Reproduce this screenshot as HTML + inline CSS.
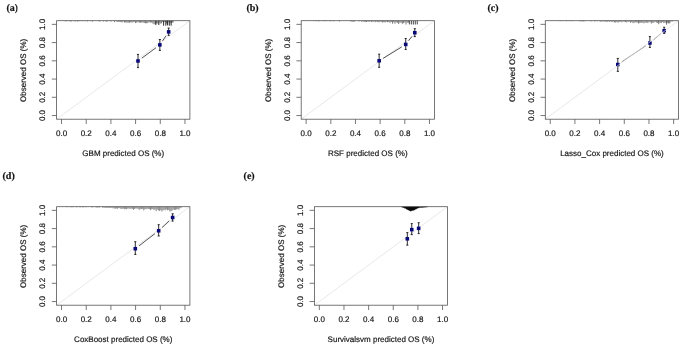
<!DOCTYPE html>
<html><head><meta charset="utf-8"><title>Calibration plots</title>
<style>
html,body{margin:0;padding:0;background:#fff;}
body{width:685px;height:346px;overflow:hidden;}
svg{display:block;filter:blur(0.3px);text-rendering:geometricPrecision;font-family:"Liberation Sans", sans-serif;font-size:8px;fill:#161616;}
text{stroke:#161616;stroke-width:0.18px;}
</style></head>
<body>
<svg width="685" height="346" viewBox="0 0 685 346">
<defs><clipPath id="clipa"><rect x="0" y="0" width="17.6" height="20"/></clipPath></defs>
<rect x="0" y="0" width="685" height="346" fill="#fff"/>
<line x1="56.60" y1="119.20" x2="189.90" y2="20.70" stroke="#dedede" stroke-width="0.7"/>
<path d="M65.24 20.70v0.64 M66.47 20.70v0.52 M68.94 20.70v0.34 M70.18 20.70v0.71 M71.41 20.70v0.68 M75.11 20.70v0.78 M77.58 20.70v0.82 M78.82 20.70v0.44 M80.05 20.70v0.35 M82.52 20.70v0.47 M84.99 20.70v0.51 M87.46 20.70v0.72 M89.93 20.70v0.43 M92.39 20.70v0.93 M98.56 20.70v0.41 M99.80 20.70v0.92 M103.50 20.70v0.73 M105.97 20.70v0.89 M107.20 20.70v0.90 M110.91 20.70v0.90 M114.61 20.70v1.43 M117.08 20.70v1.22 M118.31 20.70v1.13 M119.55 20.70v0.95 M120.78 20.70v1.30 M122.02 20.70v1.82 M123.25 20.70v0.74 M124.48 20.70v1.74 M125.72 20.70v1.84 M126.95 20.70v1.99 M128.19 20.70v1.85 M129.42 20.70v2.01 M130.66 20.70v1.64 M131.89 20.70v1.75 M133.12 20.70v1.59 M134.36 20.70v1.05 M135.59 20.70v2.40 M136.83 20.70v1.98 M138.06 20.70v1.40 M139.30 20.70v2.00 M140.53 20.70v2.02 M141.76 20.70v1.84 M143.00 20.70v1.87 M144.23 20.70v2.31 M145.47 20.70v2.56 M146.70 20.70v2.60 M147.94 20.70v2.32 M149.17 20.70v1.42 M150.40 20.70v1.91 M151.64 20.70v1.83 M152.87 20.70v2.84 M154.11 20.70v3.58 M155.34 20.70v3.11 M156.58 20.70v2.79 M157.81 20.70v2.85 M159.04 20.70v1.74 M160.28 20.70v2.94 M161.51 20.70v2.61 M162.75 20.70v1.42 M163.98 20.70v1.30 M165.21 20.70v1.30 M166.45 20.70v2.86 M167.68 20.70v1.81 M168.92 20.70v1.53 M170.15 20.70v2.64 M171.39 20.70v2.05" stroke="#333" stroke-width="0.65" fill="none"/><path d="M155.83 20.70v4.40 M158.80 20.70v4.40 M163.61 20.70v5.00 M165.83 20.70v5.00 M167.56 20.70v4.70 M169.29 20.70v5.00 M171.14 20.70v5.00 M172.87 20.70v1.80" stroke="#151515" stroke-width="0.9" fill="none"/>
<text x="61.54" y="136.45" text-anchor="middle">0.0</text>
<text transform="translate(44.90,115.55) rotate(-90)" text-anchor="middle">0.0</text>
<text x="86.22" y="136.45" text-anchor="middle">0.2</text>
<text transform="translate(44.90,97.31) rotate(-90)" text-anchor="middle">0.2</text>
<text x="110.91" y="136.45" text-anchor="middle">0.4</text>
<text transform="translate(44.90,79.07) rotate(-90)" text-anchor="middle">0.4</text>
<text x="135.59" y="136.45" text-anchor="middle">0.6</text>
<text transform="translate(44.90,60.83) rotate(-90)" text-anchor="middle">0.6</text>
<text x="160.28" y="136.45" text-anchor="middle">0.8</text>
<text transform="translate(44.90,42.59) rotate(-90)" text-anchor="middle">0.8</text>
<text x="184.96" y="136.45" text-anchor="middle">1.0</text>
<text transform="translate(44.90,24.35) rotate(-90)" text-anchor="middle">1.0</text>
<path d="M61.54 119.20v4.8 M56.60 115.55h-4.8 M86.22 119.20v4.8 M56.60 97.31h-4.8 M110.91 119.20v4.8 M56.60 79.07h-4.8 M135.59 119.20v4.8 M56.60 60.83h-4.8 M160.28 119.20v4.8 M56.60 42.59h-4.8 M184.96 119.20v4.8 M56.60 24.35h-4.8" stroke="#555" stroke-width="0.8" fill="none"/>
<text x="123.25" y="155.90" text-anchor="middle">GBM predicted OS (%)</text>
<text transform="translate(26.20,70.35) rotate(-90)" text-anchor="middle">Observed OS (%)</text>
<line x1="141.78" y1="58.19" x2="156.06" y2="47.67" stroke="#1a1a1a" stroke-width="0.75"/>
<line x1="162.49" y1="41.00" x2="166.03" y2="35.77" stroke="#1a1a1a" stroke-width="0.75"/>
<path d="M138.00 67.62V54.43 M136.95 67.62h2.1 M136.95 54.43h2.1 M159.85 50.43V39.52 M158.80 50.43h2.1 M158.80 39.52h2.1 M168.67 35.34V28.06 M167.62 35.34h2.1 M167.62 28.06h2.1" stroke="#151515" stroke-width="0.9" fill="none"/>
<rect x="136.20" y="59.23" width="3.6" height="3.5" fill="#08087a"/>
<rect x="158.05" y="43.14" width="3.6" height="3.5" fill="#08087a"/>
<rect x="166.87" y="30.13" width="3.6" height="3.5" fill="#08087a"/>
<rect x="56.60" y="20.70" width="133.30" height="98.50" fill="none" stroke="#555" stroke-width="0.8"/>
<text x="6.4" y="10.8" font-family='"Liberation Serif", serif' font-weight="bold" font-size="10" fill="#111" stroke="#111" stroke-width="0.3" clip-path="url(#clipa)">(a)</text>
<line x1="301.20" y1="119.20" x2="434.40" y2="20.70" stroke="#dedede" stroke-width="0.7"/>
<path d="M313.53 20.70v0.31 M316.00 20.70v0.56 M318.47 20.70v0.53 M319.70 20.70v0.48 M323.40 20.70v0.50 M324.63 20.70v0.33 M325.87 20.70v0.52 M329.57 20.70v0.43 M330.80 20.70v0.47 M333.27 20.70v0.64 M339.43 20.70v0.80 M350.53 20.70v0.56 M351.77 20.70v0.86 M353.00 20.70v1.01 M354.23 20.70v1.04 M359.17 20.70v0.73 M361.63 20.70v0.99 M362.87 20.70v0.61 M364.10 20.70v1.18 M365.33 20.70v1.13 M366.57 20.70v1.30 M367.80 20.70v0.75 M369.03 20.70v1.23 M370.27 20.70v0.69 M371.50 20.70v1.22 M372.73 20.70v0.92 M373.97 20.70v0.90 M375.20 20.70v1.53 M376.43 20.70v0.83 M377.67 20.70v1.26 M378.90 20.70v1.63 M380.13 20.70v1.03 M381.37 20.70v1.05 M382.60 20.70v1.86 M383.83 20.70v1.40 M385.07 20.70v1.82 M386.30 20.70v1.01 M387.53 20.70v1.49 M388.77 20.70v1.28 M390.00 20.70v2.05 M391.23 20.70v1.33 M392.47 20.70v3.00 M393.70 20.70v1.49 M394.93 20.70v3.08 M396.17 20.70v1.62 M397.40 20.70v2.12 M398.63 20.70v3.32 M399.87 20.70v1.94 M401.10 20.70v2.01 M402.33 20.70v3.12 M403.57 20.70v2.48 M404.80 20.70v1.74 M406.03 20.70v3.85 M407.27 20.70v2.01 M408.50 20.70v1.76" stroke="#333" stroke-width="0.65" fill="none"/><path d="M409.36 20.70v3.70 M411.34 20.70v3.70 M413.31 20.70v3.80 M415.28 20.70v3.80 M417.26 20.70v3.70" stroke="#3a3a3a" stroke-width="0.95" fill="none"/>
<text x="306.13" y="136.45" text-anchor="middle">0.0</text>
<text transform="translate(289.50,115.55) rotate(-90)" text-anchor="middle">0.0</text>
<text x="330.80" y="136.45" text-anchor="middle">0.2</text>
<text transform="translate(289.50,97.31) rotate(-90)" text-anchor="middle">0.2</text>
<text x="355.47" y="136.45" text-anchor="middle">0.4</text>
<text transform="translate(289.50,79.07) rotate(-90)" text-anchor="middle">0.4</text>
<text x="380.13" y="136.45" text-anchor="middle">0.6</text>
<text transform="translate(289.50,60.83) rotate(-90)" text-anchor="middle">0.6</text>
<text x="404.80" y="136.45" text-anchor="middle">0.8</text>
<text transform="translate(289.50,42.59) rotate(-90)" text-anchor="middle">0.8</text>
<text x="429.47" y="136.45" text-anchor="middle">1.0</text>
<text transform="translate(289.50,24.35) rotate(-90)" text-anchor="middle">1.0</text>
<path d="M306.13 119.20v4.8 M301.20 115.55h-4.8 M330.80 119.20v4.8 M301.20 97.31h-4.8 M355.47 119.20v4.8 M301.20 79.07h-4.8 M380.13 119.20v4.8 M301.20 60.83h-4.8 M404.80 119.20v4.8 M301.20 42.59h-4.8 M429.47 119.20v4.8 M301.20 24.35h-4.8" stroke="#555" stroke-width="0.8" fill="none"/>
<text x="367.80" y="155.90" text-anchor="middle">RSF predicted OS (%)</text>
<text transform="translate(270.80,70.35) rotate(-90)" text-anchor="middle">Observed OS (%)</text>
<line x1="383.15" y1="58.33" x2="401.72" y2="46.90" stroke="#1a1a1a" stroke-width="0.75"/>
<line x1="408.60" y1="40.71" x2="411.92" y2="36.42" stroke="#1a1a1a" stroke-width="0.75"/>
<path d="M379.15 67.34V54.16 M378.10 67.34h2.1 M378.10 54.16h2.1 M405.72 49.43V38.52 M404.67 49.43h2.1 M404.67 38.52h2.1 M414.79 36.61V28.70 M413.74 36.61h2.1 M413.74 28.70h2.1" stroke="#151515" stroke-width="0.9" fill="none"/>
<rect x="377.35" y="59.05" width="3.6" height="3.5" fill="#08087a"/>
<rect x="403.92" y="42.68" width="3.6" height="3.5" fill="#08087a"/>
<rect x="412.99" y="30.95" width="3.6" height="3.5" fill="#08087a"/>
<rect x="301.20" y="20.70" width="133.20" height="98.50" fill="none" stroke="#555" stroke-width="0.8"/>
<text x="246.4" y="10.8" font-family='"Liberation Serif", serif' font-weight="bold" font-size="10" fill="#111" stroke="#111" stroke-width="0.3">(b)</text>
<path d="M560.11 20.70v0.55 M562.58 20.70v0.39 M566.28 20.70v0.58 M569.99 20.70v0.61 M572.45 20.70v0.44 M579.86 20.70v0.76 M581.09 20.70v0.39 M582.33 20.70v0.82 M583.56 20.70v0.65 M584.80 20.70v0.59 M590.97 20.70v0.76 M594.67 20.70v0.86 M597.14 20.70v0.61 M599.61 20.70v0.50 M600.84 20.70v1.04 M602.08 20.70v0.77 M603.31 20.70v0.59 M604.54 20.70v0.72 M605.78 20.70v1.12 M607.01 20.70v1.27 M608.25 20.70v0.59 M609.48 20.70v1.16 M610.72 20.70v0.65 M611.95 20.70v1.38 M613.18 20.70v1.02 M614.42 20.70v1.68 M615.65 20.70v1.86 M616.89 20.70v1.36 M618.12 20.70v2.03 M619.36 20.70v1.18 M620.59 20.70v0.90 M621.82 20.70v1.61 M623.06 20.70v0.87 M624.29 20.70v1.11 M625.53 20.70v1.42 M626.76 20.70v1.73 M628.00 20.70v1.10 M629.23 20.70v0.96 M630.46 20.70v2.20 M631.70 20.70v1.39 M632.93 20.70v2.40 M634.17 20.70v2.34 M635.40 20.70v1.56 M636.64 20.70v1.71 M637.87 20.70v1.83 M639.10 20.70v2.06 M640.34 20.70v2.01 M641.57 20.70v1.98 M642.81 20.70v2.11 M644.04 20.70v2.67 M645.28 20.70v1.94 M646.51 20.70v1.82 M647.74 20.70v2.35 M648.98 20.70v1.51 M650.21 20.70v1.63 M651.45 20.70v2.87 M652.68 20.70v2.06 M653.91 20.70v2.12 M655.15 20.70v1.15 M656.38 20.70v1.91 M657.62 20.70v2.23 M658.85 20.70v1.19 M660.09 20.70v2.33 M661.32 20.70v2.38 M662.55 20.70v1.29 M663.79 20.70v2.40 M665.02 20.70v2.10 M666.26 20.70v2.54 M667.49 20.70v1.91 M668.73 20.70v2.31 M669.96 20.70v2.06 M671.19 20.70v0.83 M672.43 20.70v0.73" stroke="#444" stroke-width="0.65" fill="none"/><path d="M638.73 20.70v2.80 M658.73 20.70v3.50 M666.63 20.70v4.00 M668.97 20.70v3.00" stroke="#3a3a3a" stroke-width="0.7" fill="none"/>
<text x="550.24" y="136.45" text-anchor="middle">0.0</text>
<text transform="translate(533.60,115.55) rotate(-90)" text-anchor="middle">0.0</text>
<text x="574.92" y="136.45" text-anchor="middle">0.2</text>
<text transform="translate(533.60,97.31) rotate(-90)" text-anchor="middle">0.2</text>
<text x="599.61" y="136.45" text-anchor="middle">0.4</text>
<text transform="translate(533.60,79.07) rotate(-90)" text-anchor="middle">0.4</text>
<text x="624.29" y="136.45" text-anchor="middle">0.6</text>
<text transform="translate(533.60,60.83) rotate(-90)" text-anchor="middle">0.6</text>
<text x="648.98" y="136.45" text-anchor="middle">0.8</text>
<text transform="translate(533.60,42.59) rotate(-90)" text-anchor="middle">0.8</text>
<text x="673.66" y="136.45" text-anchor="middle">1.0</text>
<text transform="translate(533.60,24.35) rotate(-90)" text-anchor="middle">1.0</text>
<path d="M550.24 119.20v4.8 M545.30 115.55h-4.8 M574.92 119.20v4.8 M545.30 97.31h-4.8 M599.61 119.20v4.8 M545.30 79.07h-4.8 M624.29 119.20v4.8 M545.30 60.83h-4.8 M648.98 119.20v4.8 M545.30 42.59h-4.8 M673.66 119.20v4.8 M545.30 24.35h-4.8" stroke="#555" stroke-width="0.8" fill="none"/>
<text x="611.95" y="155.90" text-anchor="middle">Lasso_Cox predicted OS (%)</text>
<text transform="translate(514.90,70.35) rotate(-90)" text-anchor="middle">Observed OS (%)</text>
<line x1="621.71" y1="61.91" x2="646.00" y2="45.60" stroke="#4a4a4a" stroke-width="0.65"/>
<line x1="653.47" y1="39.91" x2="660.60" y2="33.77" stroke="#4a4a4a" stroke-width="0.65"/>
<path d="M617.81 71.35V58.43 M616.76 71.35h2.1 M616.76 58.43h2.1 M649.90 47.43V36.61 M648.85 47.43h2.1 M648.85 36.61h2.1 M664.16 33.43V27.25 M663.11 33.43h2.1 M663.11 27.25h2.1" stroke="#151515" stroke-width="0.9" fill="none"/>
<rect x="616.01" y="62.78" width="3.6" height="3.5" fill="#08087a"/>
<rect x="648.10" y="41.23" width="3.6" height="3.5" fill="#08087a"/>
<rect x="662.36" y="28.95" width="3.6" height="3.5" fill="#08087a"/>
<line x1="545.30" y1="119.20" x2="678.60" y2="20.70" stroke="#dedede" stroke-width="0.7"/>
<rect x="545.30" y="20.70" width="133.30" height="98.50" fill="none" stroke="#555" stroke-width="0.8"/>
<text x="487.4" y="10.9" font-family='"Liberation Serif", serif' font-weight="bold" font-size="10" fill="#111" stroke="#111" stroke-width="0.3">(c)</text>
<line x1="56.60" y1="305.20" x2="189.90" y2="206.70" stroke="#dedede" stroke-width="0.7"/>
<path d="M66.47 206.70v0.37 M67.61 206.70v0.42 M71.02 206.70v0.55 M72.15 206.70v0.50 M73.29 206.70v0.40 M76.69 206.70v0.62 M80.10 206.70v0.68 M82.37 206.70v0.57 M83.51 206.70v0.57 M85.78 206.70v0.61 M91.46 206.70v0.51 M92.59 206.70v0.77 M96.00 206.70v0.67 M97.13 206.70v0.89 M98.27 206.70v0.66 M99.40 206.70v0.80 M102.81 206.70v1.13 M103.95 206.70v0.71 M105.08 206.70v1.18 M106.22 206.70v1.15 M107.35 206.70v0.95 M108.49 206.70v1.06 M109.62 206.70v1.00 M110.76 206.70v1.26 M111.89 206.70v0.98 M113.03 206.70v1.57 M114.17 206.70v1.80 M115.30 206.70v1.93 M116.44 206.70v1.79 M117.57 206.70v2.08 M118.71 206.70v1.20 M119.84 206.70v1.53 M120.98 206.70v2.33 M122.11 206.70v2.20 M123.25 206.70v1.85 M124.39 206.70v2.55 M125.52 206.70v2.23 M126.66 206.70v2.55 M127.79 206.70v1.93 M128.93 206.70v1.85 M130.06 206.70v2.25 M131.20 206.70v1.85 M132.33 206.70v2.24 M133.47 206.70v3.13 M134.61 206.70v2.24 M135.74 206.70v1.79 M136.88 206.70v1.88 M138.01 206.70v2.10 M139.15 206.70v3.12 M140.28 206.70v2.49 M141.42 206.70v2.41 M142.55 206.70v2.12 M143.69 206.70v3.66 M144.82 206.70v2.75 M145.96 206.70v2.41 M147.10 206.70v2.18 M148.23 206.70v2.21 M149.37 206.70v2.47 M150.50 206.70v3.48 M151.64 206.70v2.54 M152.77 206.70v2.37 M153.91 206.70v3.32 M155.04 206.70v2.89 M156.18 206.70v4.50 M157.32 206.70v2.73 M158.45 206.70v3.66 M159.59 206.70v4.26 M160.72 206.70v3.50 M161.86 206.70v4.81 M162.99 206.70v3.69 M164.13 206.70v3.17 M165.26 206.70v3.57 M166.40 206.70v2.73 M167.54 206.70v3.62 M168.67 206.70v3.24 M169.81 206.70v4.72 M170.94 206.70v4.61 M172.08 206.70v3.86 M173.21 206.70v2.79 M174.35 206.70v3.32 M175.48 206.70v3.17 M176.62 206.70v2.74 M177.75 206.70v2.43 M178.89 206.70v3.00 M180.03 206.70v1.55 M181.16 206.70v1.10" stroke="#404040" stroke-width="0.6" fill="none"/><path d="" stroke="#151515" stroke-width="0.9" fill="none"/>
<text x="61.54" y="322.45" text-anchor="middle">0.0</text>
<text transform="translate(44.90,301.55) rotate(-90)" text-anchor="middle">0.0</text>
<text x="86.22" y="322.45" text-anchor="middle">0.2</text>
<text transform="translate(44.90,283.31) rotate(-90)" text-anchor="middle">0.2</text>
<text x="110.91" y="322.45" text-anchor="middle">0.4</text>
<text transform="translate(44.90,265.07) rotate(-90)" text-anchor="middle">0.4</text>
<text x="135.59" y="322.45" text-anchor="middle">0.6</text>
<text transform="translate(44.90,246.83) rotate(-90)" text-anchor="middle">0.6</text>
<text x="160.28" y="322.45" text-anchor="middle">0.8</text>
<text transform="translate(44.90,228.59) rotate(-90)" text-anchor="middle">0.8</text>
<text x="184.96" y="322.45" text-anchor="middle">1.0</text>
<text transform="translate(44.90,210.35) rotate(-90)" text-anchor="middle">1.0</text>
<path d="M61.54 305.20v4.8 M56.60 301.55h-4.8 M86.22 305.20v4.8 M56.60 283.31h-4.8 M110.91 305.20v4.8 M56.60 265.07h-4.8 M135.59 305.20v4.8 M56.60 246.83h-4.8 M160.28 305.20v4.8 M56.60 228.59h-4.8 M184.96 305.20v4.8 M56.60 210.35h-4.8" stroke="#555" stroke-width="0.8" fill="none"/>
<text x="123.25" y="341.90" text-anchor="middle">CoxBoost predicted OS (%)</text>
<text transform="translate(26.20,256.35) rotate(-90)" text-anchor="middle">Observed OS (%)</text>
<line x1="139.03" y1="245.85" x2="154.94" y2="233.65" stroke="#1a1a1a" stroke-width="0.75"/>
<line x1="162.08" y1="227.55" x2="169.22" y2="220.76" stroke="#1a1a1a" stroke-width="0.75"/>
<path d="M135.30 254.44V241.71 M134.25 254.44h2.1 M134.25 241.71h2.1 M158.67 235.98V224.70 M157.62 235.98h2.1 M157.62 224.70h2.1 M172.62 221.07V213.79 M171.57 221.07h2.1 M171.57 213.79h2.1" stroke="#151515" stroke-width="0.9" fill="none"/>
<rect x="133.50" y="246.96" width="3.6" height="3.5" fill="#08087a"/>
<rect x="156.87" y="229.05" width="3.6" height="3.5" fill="#08087a"/>
<rect x="170.82" y="215.77" width="3.6" height="3.5" fill="#08087a"/>
<rect x="56.60" y="206.70" width="133.30" height="98.50" fill="none" stroke="#555" stroke-width="0.8"/>
<text x="2.5" y="178.8" font-family='"Liberation Serif", serif' font-weight="bold" font-size="10" fill="#111" stroke="#111" stroke-width="0.3">(d)</text>
<line x1="314.40" y1="305.20" x2="447.50" y2="206.70" stroke="#dedede" stroke-width="0.7"/>
<path d="M401.16 206.70 L402.15 207.20 L403.38 207.40 L404.37 208.20 L405.23 208.10 L406.09 209.10 L407.08 209.30 L407.82 210.10 L408.56 210.00 L409.30 210.80 L410.03 210.70 L410.65 211.30 L411.27 210.70 L412.01 211.10 L412.62 210.30 L413.36 210.60 L413.98 209.90 L414.59 210.00 L415.46 209.20 L416.32 209.10 L417.50 208.30 L418.54 208.00 L419.50 207.60 L421.62 207.40 L424.08 207.20 L426.43 207.05 L427.78 206.70Z" fill="#0a0a0a" stroke="#0a0a0a" stroke-width="0.3"/>
<text x="319.33" y="322.45" text-anchor="middle">0.0</text>
<text transform="translate(302.70,301.55) rotate(-90)" text-anchor="middle">0.0</text>
<text x="343.98" y="322.45" text-anchor="middle">0.2</text>
<text transform="translate(302.70,283.31) rotate(-90)" text-anchor="middle">0.2</text>
<text x="368.63" y="322.45" text-anchor="middle">0.4</text>
<text transform="translate(302.70,265.07) rotate(-90)" text-anchor="middle">0.4</text>
<text x="393.27" y="322.45" text-anchor="middle">0.6</text>
<text transform="translate(302.70,246.83) rotate(-90)" text-anchor="middle">0.6</text>
<text x="417.92" y="322.45" text-anchor="middle">0.8</text>
<text transform="translate(302.70,228.59) rotate(-90)" text-anchor="middle">0.8</text>
<text x="442.57" y="322.45" text-anchor="middle">1.0</text>
<text transform="translate(302.70,210.35) rotate(-90)" text-anchor="middle">1.0</text>
<path d="M319.33 305.20v4.8 M314.40 301.55h-4.8 M343.98 305.20v4.8 M314.40 283.31h-4.8 M368.63 305.20v4.8 M314.40 265.07h-4.8 M393.27 305.20v4.8 M314.40 246.83h-4.8 M417.92 305.20v4.8 M314.40 228.59h-4.8 M442.57 305.20v4.8 M314.40 210.35h-4.8" stroke="#555" stroke-width="0.8" fill="none"/>
<text x="380.95" y="341.90" text-anchor="middle">Survivalsvm predicted OS (%)</text>
<text transform="translate(284.00,256.35) rotate(-90)" text-anchor="middle">Observed OS (%)</text>
<path d="M407.32 245.16V232.61 M406.27 245.16h2.1 M406.27 232.61h2.1 M411.76 234.61V223.61 M410.71 234.61h2.1 M410.71 223.61h2.1 M418.66 233.61V222.70 M417.61 233.61h2.1 M417.61 222.70h2.1" stroke="#151515" stroke-width="0.9" fill="none"/>
<rect x="405.52" y="237.05" width="3.6" height="3.5" fill="#08087a"/>
<rect x="409.96" y="227.86" width="3.6" height="3.5" fill="#08087a"/>
<rect x="416.86" y="226.59" width="3.6" height="3.5" fill="#08087a"/>
<rect x="314.40" y="206.70" width="133.10" height="98.50" fill="none" stroke="#555" stroke-width="0.8"/>
<text x="243.6" y="178.8" font-family='"Liberation Serif", serif' font-weight="bold" font-size="10" fill="#111" stroke="#111" stroke-width="0.3">(e)</text>
</svg>
</body></html>
